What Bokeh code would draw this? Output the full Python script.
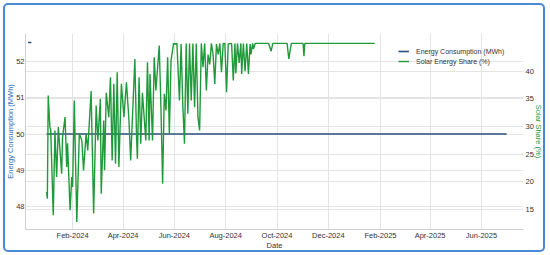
import numpy as np
import pandas as pd
from bokeh.plotting import figure
from bokeh.models import (LinearAxis, Range1d, FixedTicker, DatetimeTickFormatter,
                          Grid, Legend, LegendItem, ColumnDataSource)
from bokeh.embed import file_html
from bokeh.resources import INLINE

# ---------------- data ----------------
start_date = "2024-01-01"

energy_dates = ["2023-12-10", "2023-12-14", "2023-12-20", "2024-01-01", "2025-07-01"]
energy_values = [52.53, 52.53, np.nan, 50.0, 50.0]

solar_day_offsets = [0, 1, 2, 4, 5, 8, 10, 12, 14, 18, 19, 22, 24, 25, 28, 30, 31, 33, 36, 39,
                     42, 44, 47, 49, 53, 56, 59, 61, 64, 65, 68, 69, 71, 74, 76, 78, 80, 82, 84, 86,
                     89, 92, 95, 98, 100, 103, 105, 107, 108, 110, 112, 114, 118, 120, 122, 123, 126, 128, 130, 134,
                     136, 138, 140, 142, 144, 146, 148, 151, 153, 155, 158, 160, 162, 164, 166, 168, 170, 172, 174, 176,
                     178, 180, 182, 184, 186, 188, 190, 192, 194, 196, 198, 200, 202, 204, 206, 208, 210, 212, 214, 216,
                     220, 222, 224, 225, 227, 229, 231, 232, 234, 236, 238, 240, 242, 243, 245, 246, 248, 264, 267, 269,
                     286, 288, 291, 305, 306, 307, 390]
solar_values = [18.2, 17.0, 35.6, 29.9, 29.3, 14.0, 29.3, 20.9, 29.9, 21.5, 28.0, 31.7, 22.7, 27.0, 14.9, 20.9, 19.1, 34.7, 12.8, 28.7,
                27.5, 22.1, 28.7, 25.7, 36.4, 14.3, 33.8, 27.5, 35.0, 17.9, 31.1, 22.1, 36.1, 31.7, 38.9, 23.9, 37.7, 23.3, 39.8, 22.7,
                37.7, 31.7, 38.0, 31.1, 23.9, 34.7, 42.2, 28.1, 24.2, 38.9, 26.9, 36.1, 27.5, 41.6, 27.5, 39.5, 27.5, 42.5, 36.5, 44.6,
                33.5, 19.7, 35.9, 32.9, 42.5, 28.7, 41.9, 45.0, 44.9, 45.0, 34.7, 44.9, 33.8, 26.9, 45.0, 32.3, 45.0, 34.7, 45.0, 33.5,
                45.0, 31.7, 29.3, 45.0, 40.7, 45.0, 36.5, 43.0, 41.2, 45.0, 43.0, 37.7, 44.9, 43.0, 45.0, 39.8, 45.0, 45.0, 36.2, 44.9,
                45.0, 38.3, 45.0, 39.6, 45.0, 41.5, 45.0, 39.5, 45.0, 40.0, 45.0, 39.5, 44.9, 43.0, 45.0, 44.0, 45.0, 45.0, 43.6, 45.0,
                45.0, 42.2, 45.0, 45.0, 42.7, 45.0, 45.0]

left_ticks = [48, 49, 50, 51, 52]
right_ticks = [15, 20, 25, 30, 35, 40]
date_ticks = ["2024-02-01", "2024-04-01", "2024-06-01", "2024-08-01", "2024-10-01",
              "2024-12-01", "2025-02-01", "2025-04-01", "2025-06-01"]

series_names = ["Energy Consumption (MWh)", "Solar Energy Share (%)"]

# ---------------- build ----------------
energy_src = ColumnDataSource(dict(date=pd.to_datetime(energy_dates), value=energy_values))
solar_dates = pd.Timestamp(start_date) + pd.to_timedelta(solar_day_offsets, unit="D")
solar_src = ColumnDataSource(dict(date=solar_dates, value=solar_values))

FONT = "Liberation Sans"
GRID = "#e4e4e4"

p = figure(width=542, height=249, x_axis_type="datetime", output_backend="svg",
           toolbar_location=None,
           x_range=Range1d(pd.Timestamp("2023-12-07"), pd.Timestamp("2025-07-21")),
           y_range=Range1d(47.36, 52.78),
           min_border_left=10, min_border_right=10, min_border_top=30, min_border_bottom=10)
p.styles = {"margin-left": "3px", "margin-top": "3px",
            "box-shadow": "inset 0 0 0 2px #4a8ad4",
            "border-radius": "5px"}
p.outline_line_color = None
p.background_fill_color = "white"
p.border_fill_alpha = 0

p.extra_y_ranges = {"right": Range1d(11.43, 46.79)}

# axes
p.xaxis.ticker = FixedTicker(ticks=[pd.Timestamp(d).value / 1e6 for d in date_ticks])
p.xaxis.formatter = DatetimeTickFormatter(days="%b-%Y", months="%b-%Y", years="%b-%Y")
p.xaxis.axis_label = "Date"
p.yaxis.ticker = FixedTicker(ticks=left_ticks)
p.yaxis.axis_label = "Energy Consumption (MWh)"
p.yaxis.axis_label_text_color = "#2f6fba"

ry = LinearAxis(y_range_name="right", axis_label="Solar Share (%)",
                ticker=FixedTicker(ticks=right_ticks))
ry.axis_label_text_color = "#1f9a3a"
p.add_layout(ry, "right")

for ax in [p.xaxis[0], p.yaxis[0], ry]:
    ax.major_tick_line_color = None
    ax.minor_tick_line_color = None
    ax.major_tick_out = 0
    ax.major_tick_in = 0
    ax.major_label_text_font = FONT
    ax.major_label_text_font_size = "7.5px"
    ax.major_label_text_color = "#333333"
    ax.axis_label_text_font = FONT
    ax.axis_label_text_font_size = "7.5px"
    ax.axis_label_text_font_style = "normal"
    ax.major_label_standoff = 1
    ax.axis_label_standoff = -2
ry.axis_label_standoff = -3
ry.major_label_standoff = 2
p.xaxis.axis_line_color = "#d0d0d0"
p.yaxis.axis_line_color = "#d0d0d0"
ry.axis_line_color = None
p.xaxis.axis_label_text_color = "#333333"

p.xgrid.grid_line_color = GRID
p.ygrid.grid_line_color = GRID
p.add_layout(Grid(dimension=1, ticker=ry.ticker, y_range_name="right", grid_line_color=GRID))

# lines
r_energy = p.line("date", "value", source=energy_src, line_color="#2b4f7e", line_width=1.6)
r_solar = p.line("date", "value", source=solar_src, y_range_name="right",
                 line_color="#1f9a3a", line_width=1.4)

legend = Legend(items=[LegendItem(label=series_names[0], renderers=[r_energy]),
                       LegendItem(label=series_names[1], renderers=[r_solar])],
                location=(373, 163), orientation="vertical",
                background_fill_alpha=0, border_line_color=None,
                label_text_font=FONT, label_text_font_size="7px", label_text_color="#333333",
                glyph_width=11, glyph_height=10, label_height=10, label_standoff=7,
                spacing=0, padding=2, margin=0)
p.add_layout(legend)

open("out.html", "w").write(file_html(p, INLINE))
